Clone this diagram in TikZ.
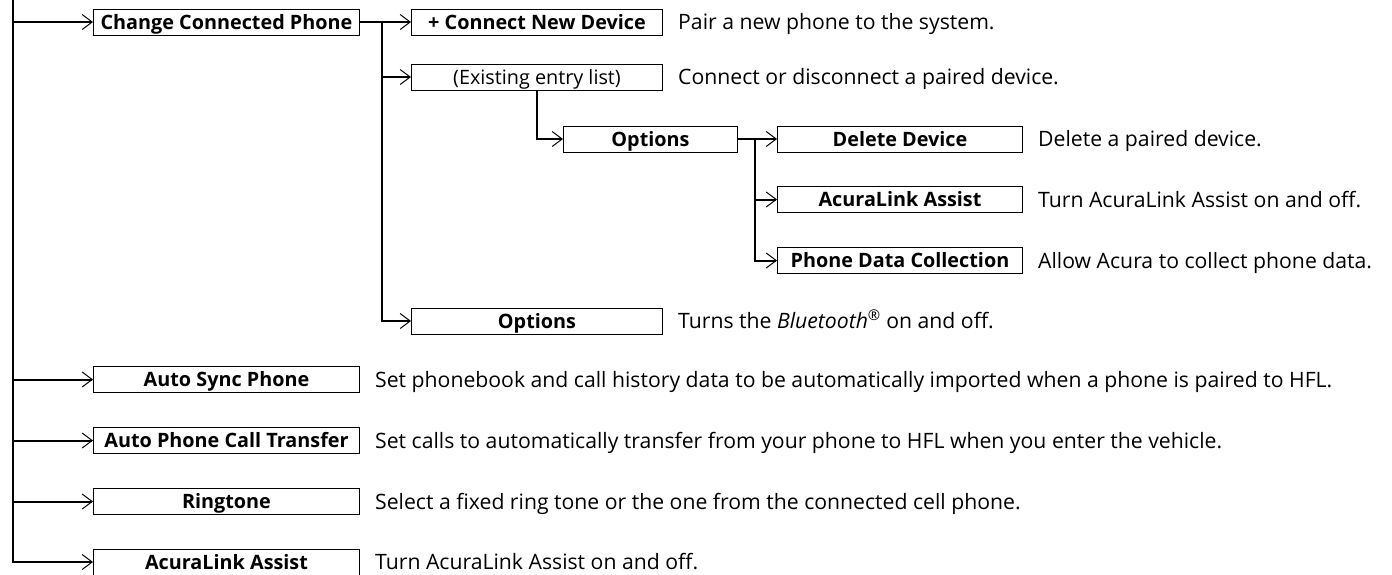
\documentclass[tikz,border=0pt]{standalone}
\usepackage{fontspec}
\setmainfont{Open Sans}
\usetikzlibrary{arrows.meta,positioning}

\begin{document}
\begin{tikzpicture}[x=1pt, y=-1pt,
    item_box/.style={draw, line width=1pt, minimum height=26pt, inner sep=0pt, anchor=west,
        text height=14pt, text depth=0pt, font=\fontsize{19.8}{22}\selectfont\bfseries},
    desc/.style={inner sep=0pt, text height=15pt, text depth=0pt, font=\fontsize{21.2}{24}\selectfont},
    branch/.style={-{Straight Barb[length=10pt,width=15pt,line width=1pt]}, line width=2pt}
]
\useasboundingbox (0,0) rectangle (1392,574);

% Menu principal
\node[item_box, minimum width=266pt] (ccp) at (93,22) {Change Connected Phone};
\node[item_box, minimum width=266pt] (sync) at (93,379.5) {Auto Sync Phone};
\node[item_box, minimum width=266pt] (transfer) at (93,440.5) {Auto Phone Call Transfer};
\node[item_box, minimum width=266pt] (ring) at (93,501.5) {Ringtone};
\node[item_box, minimum width=266pt] (assist) at (93,562) {AcuraLink Assist};

% Telephone connecte
\node[item_box, minimum width=251pt] (newdev) at (411,22) {+ Connect New Device};
\node[item_box, minimum width=251pt, font=\fontsize{19.8}{22}\selectfont] (entries) at (411,77) {(Existing entry list)};
\node[item_box, minimum width=251pt] (bt) at (411,321) {Options};

% Options appareil
\node[item_box, minimum width=174pt] (opts) at (563,139) {Options};
\node[item_box, minimum width=245pt] (delete) at (777,139) {Delete Device};
\node[item_box, minimum width=245pt] (linkassist) at (777,199.5) {AcuraLink Assist};
\node[item_box, minimum width=245pt] (collect) at (777,260.5) {Phone Data Collection};

% Descriptions
\node[desc, right=15pt of newdev] {Pair a new phone to the system.};
\node[desc, right=15pt of entries] {Connect or disconnect a paired device.};
\node[desc, right=15pt of delete] {Delete a paired device.};
\node[desc, right=15pt of linkassist] {Turn AcuraLink Assist on and off.};
\node[desc, right=15pt of collect] {Allow Acura to collect phone data.};
\node[desc, right=15pt of bt] {Turns the \textit{Bluetooth}\textsuperscript{®} on and off.};
\node[desc, right=15pt of sync] {Set phonebook and call history data to be automatically imported when a phone is paired to HFL.};
\node[desc, right=15pt of transfer] {Set calls to automatically transfer from your phone to HFL when you enter the vehicle.};
\node[desc, right=15pt of ring] {Select a fixed ring tone or the one from the connected cell phone.};
\node[desc, right=15pt of assist] {Turn AcuraLink Assist on and off.};

% Branches
\coordinate (root) at (13,0);
\coordinate (fork1) at (382,22);
\coordinate (fork2) at (755,139);

\draw[branch] (root) |- (ccp);
\draw[branch] (root) |- (sync);
\draw[branch] (root) |- (transfer);
\draw[branch] (root) |- (ring);
\draw[branch] (root) |- (assist);

\draw[branch] (ccp) -- (newdev);
\draw[branch] (fork1) |- (entries);
\draw[branch] (fork1) |- (bt);
\draw[branch] (entries) |- (opts);

\draw[branch] (opts) -- (delete);
\draw[branch] (fork2) |- (linkassist);
\draw[branch] (fork2) |- (collect);
\end{tikzpicture}
\end{document}
